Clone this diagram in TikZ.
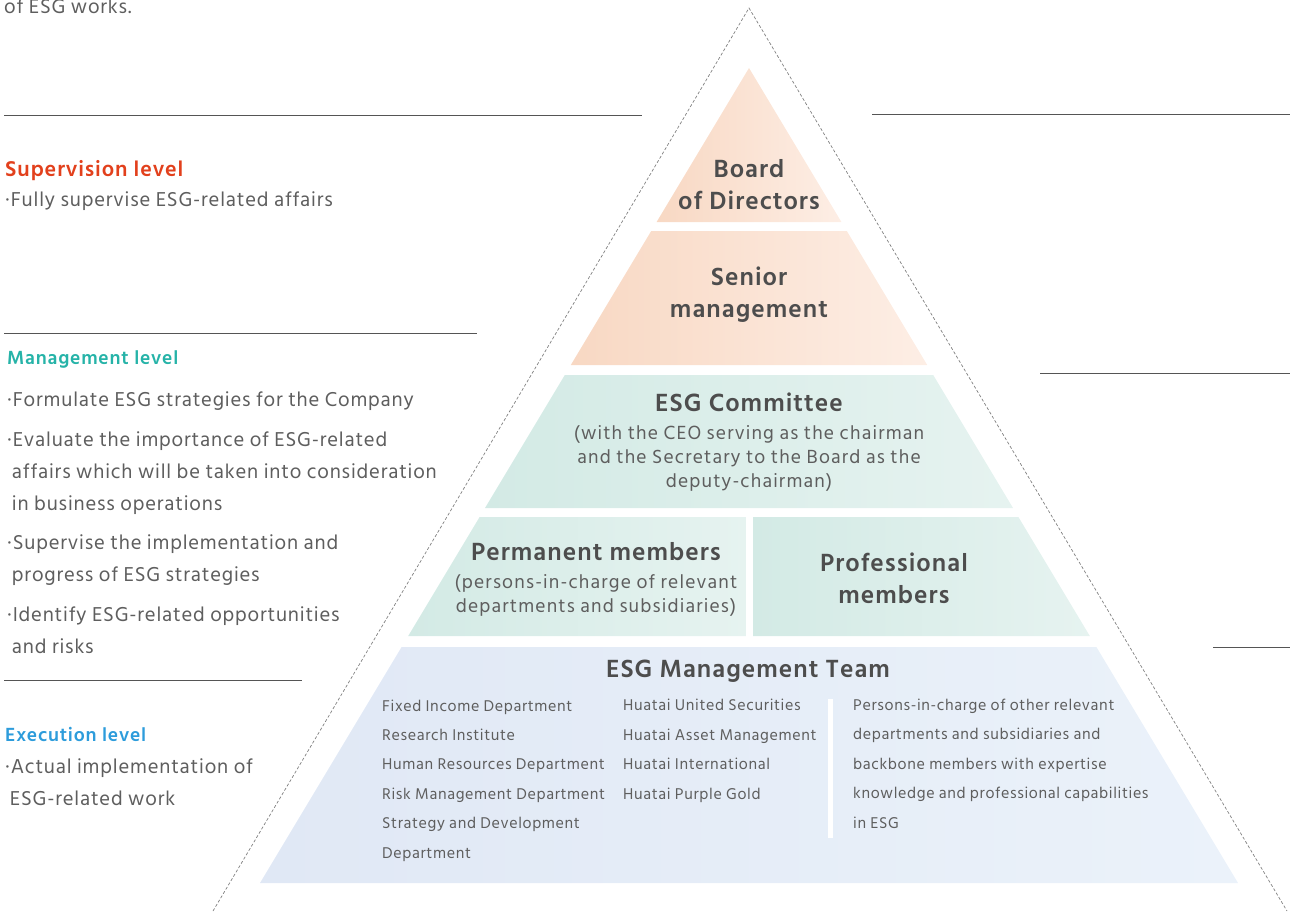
\documentclass[tikz,border=0pt]{standalone}
\usepackage{fontspec}
\setmainfont{Hind Siliguri}[LetterSpace=4]
\newfontfamily\subfont{Hind Siliguri}[LetterSpace=6]
\usetikzlibrary{positioning}
\definecolor{head}{HTML}{4D4D4D}
\definecolor{txt}{HTML}{5E5E5E}
\definecolor{rulegray}{HTML}{555555}
\definecolor{supred}{HTML}{E2401C}
\definecolor{mgtteal}{HTML}{26B3A8}
\definecolor{exeblue}{HTML}{2D9CDB}
\definecolor{peachL}{HTML}{F8D8C3}
\definecolor{peachR}{HTML}{FDEEE5}
\definecolor{tealL}{HTML}{D3EAE5}
\definecolor{tealR}{HTML}{E6F3F0}
\definecolor{blueL}{HTML}{E0E8F5}
\definecolor{blueR}{HTML}{EBF2FA}

\begin{document}
\begin{tikzpicture}[x=1pt,y=-1pt,
    lvl/.style={anchor=base west,inner sep=0pt,font=\fontsize{19.5}{24}\selectfont\bfseries},
    note/.style={anchor=base west,inner sep=0pt,align=left,text=txt,font=\fontsize{20.6}{32}\selectfont},
    tier/.style={inner sep=0pt,align=center,text=head,font=\fontsize{25.5}{32}\selectfont\bfseries},
    paren/.style={inner sep=0pt,align=center,text=txt,font=\subfont\fontsize{19.5}{24}\selectfont},
    unit/.style={anchor=base west,inner sep=0pt,align=left,text=txt,font=\fontsize{16}{29.4}\selectfont},
    rule/.style={draw=rulegray,line width=1pt}]
  \useasboundingbox (0,0) rectangle (1293,911);

  % dashed outline
  \draw[gray,line width=0.7pt,dash pattern=on 3pt off 2pt]
    (213,911) -- (749,8) -- (1287,911);

  % tiers
  \shade[left color=peachL,right color=peachR]
    (749,68) -- (841.4,222) -- (656.6,222) -- cycle;
  \shade[left color=peachL,right color=peachR]
    (651.2,231) -- (846.8,231) -- (927.2,365) -- (570.8,365) -- cycle;
  \shade[left color=tealL,right color=tealR]
    (564.8,375) -- (933.2,375) -- (1013,508) -- (485,508) -- cycle;
  \shade[left color=tealL,right color=tealR]
    (479.6,517) -- (746,517) -- (746,636) -- (408.2,636) -- cycle;
  \shade[left color=tealL,right color=tealR]
    (753,517) -- (1018.4,517) -- (1089.8,636) -- (753,636) -- cycle;
  \shade[left color=blueL,right color=blueR]
    (401.6,647) -- (1096.4,647) -- (1238,883) -- (260,883) -- cycle;
  \fill[white] (828,699) rectangle (833,838);

  % rules
  \draw[rule] (4,115) -- (642,115);
  \draw[rule] (872,114) -- (1290,114);
  \draw[rule] (4,333) -- (477,333);
  \draw[rule] (1040,373) -- (1290,373);
  \draw[rule] (4,680) -- (302,680);
  \draw[rule] (1213,647) -- (1290,647);

  % levels (base = last line)
  \path
    (4,13) node[note] (intro) {of ESG works.}
    (5,176) node[lvl,text=supred,font=\fontsize{22}{24}\selectfont\bfseries] (sup) {Supervision level}
    (5,206) node[note] (sup1) {·Fully supervise ESG-related affairs}
    (7,364) node[lvl,text=mgtteal] (mgt) {Management level}
    (7,406) node[note] (mgt1) {·Formulate ESG strategies for the Company}
    (7,510) node[note] (mgt2) {·Evaluate the importance of ESG-related\\
      \hphantom{·}affairs which will be taken into consideration\\
      \hphantom{·}in business operations}
    (7,581) node[note] (mgt3) {·Supervise the implementation and\\
      \hphantom{·}progress of ESG strategies}
    (7,653) node[note] (mgt4) {·Identify ESG-related opportunities\\
      \hphantom{·}and risks}
    (5,741) node[lvl,text=exeblue] (exe) {Execution level}
    (5,805) node[note] (exe1) {·Actual implementation of\\
      \hphantom{·}ESG-related work}
    ;

  % pyramid labels
  \path
    (749,185) node[tier] (board) {Board\\of Directors}
    (749,295) node[tier] (senior) {Senior\\management}
    (749,402) node[tier] (comm) {ESG Committee}
    (749,458) node[paren] (commsub) {(with the CEO serving as the chairman\\
      and the Secretary to the Board as the\\deputy-chairman)}
    (596,552) node[tier] (perm) {Permanent members}
    (596,595) node[paren] (permsub) {(persons-in-charge of relevant\\
      departments and subsidiaries)}
    (894,578) node[tier] (prof) {Professional\\members}
    (748,671) node[tier] (team) {ESG Management Team}
    (382,858) node[unit] (depts) {Fixed Income Department\\Research Institute\\
      Human Resources Department\\Risk Management Department\\
      Strategy and Development\\Department}
    (623,799) node[unit] (subs) {Huatai United Securities\\Huatai Asset Management\\
      Huatai International\\Huatai Purple Gold}
    (853,828) node[unit] (others) {Persons-in-charge of other relevant\\
      departments and subsidiaries and\\backbone members with expertise\\
      knowledge and professional capabilities\\in ESG}
    ;
\end{tikzpicture}
\end{document}
